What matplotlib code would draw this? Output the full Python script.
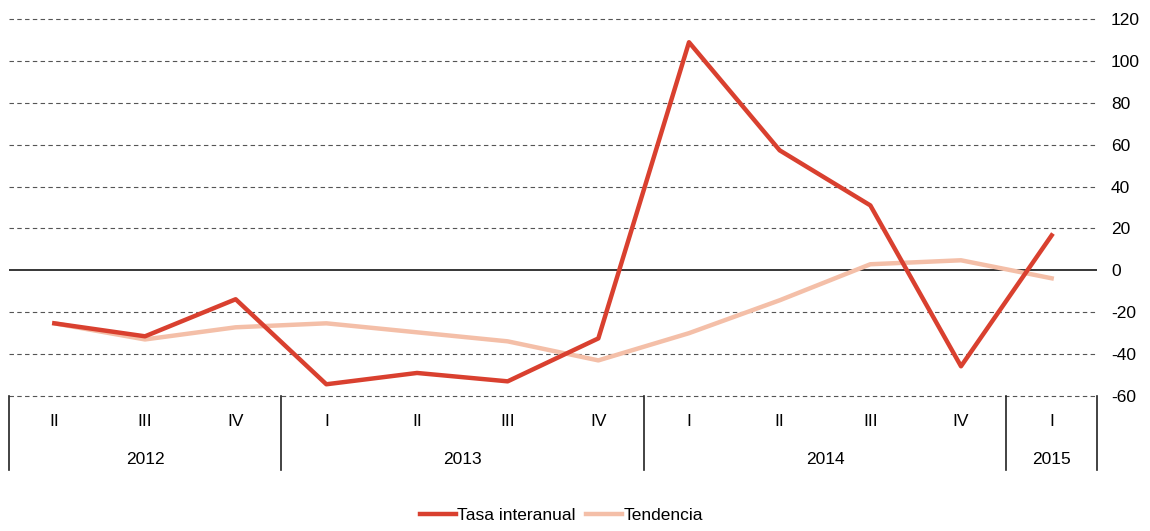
import matplotlib.pyplot as plt
import matplotlib.transforms as mtransforms

plt.rcParams['font.family'] = ['Liberation Sans', 'DejaVu Sans']
plt.rcParams['axes.unicode_minus'] = False

quarters = ['II', 'III', 'IV', 'I', 'II', 'III', 'IV', 'I', 'II', 'III', 'IV', 'I']
years = ['2012', '2013', '2014', '2015']
year_counts = [3, 4, 4, 1]

tasa = [-25.3, -31.5, -13.8, -54.4, -49.0, -53.0, -32.5, 108.9, 57.3, 31.0, -45.8, 16.7]
tendencia = [-25.3, -33.0, -27.2, -25.3, -29.6, -33.9, -43.0, -30.0, -14.3, 2.9, 4.8, -3.8]

red = '#d9402f'
pink = '#f4bfa8'
fs = 12.5

fig = plt.figure(figsize=(11.5, 5.31), dpi=100)
ax = fig.add_axes([9 / 1150, 1 - 396 / 531, 1088 / 1150, 377 / 531])

x = list(range(len(quarters)))
ax.plot(x, tasa, color=red, lw=3.2, label='Tasa interanual', zorder=3)
ax.plot(x, tendencia, color=pink, lw=3.2, label='Tendencia', zorder=2)

ax.set_xlim(-0.5, len(quarters) - 0.5)
ax.set_ylim(-60, 120)
ax.set_yticks(range(-60, 121, 20))
for v in range(-60, 121, 20):
    if v == 0:
        ax.axhline(0, color='black', lw=1.1, zorder=1)
    else:
        ax.axhline(v, color='#555555', lw=0.8, ls=(0, (4, 3)), zorder=0, clip_on=False)

ax.yaxis.tick_right()
ax.tick_params(axis='y', length=0, labelsize=fs, pad=10)
ax.set_xticks([])
for s in ax.spines.values():
    s.set_visible(False)

trans = mtransforms.blended_transform_factory(ax.transData, ax.transAxes)
for i, q in enumerate(quarters):
    ax.text(i, -0.067, q, transform=trans, ha='center', va='center', fontsize=fs)

start = 0
bounds = [-0.5]
for y, n in zip(years, year_counts):
    ax.text(start + (n - 1) / 2, -0.168, y, transform=trans, ha='center', va='center', fontsize=fs)
    start += n
    bounds.append(start - 0.5)
for b in bounds:
    ax.plot([b, b], [0, -0.195], transform=trans, color='#222222', lw=1.2, clip_on=False)

fig.legend(loc='lower center', bbox_to_anchor=(0.488, -0.015), ncol=2, frameon=False,
           fontsize=fs, handlelength=2.1, handletextpad=0.05, columnspacing=0.6)

fig.savefig('out.png', dpi=100)
